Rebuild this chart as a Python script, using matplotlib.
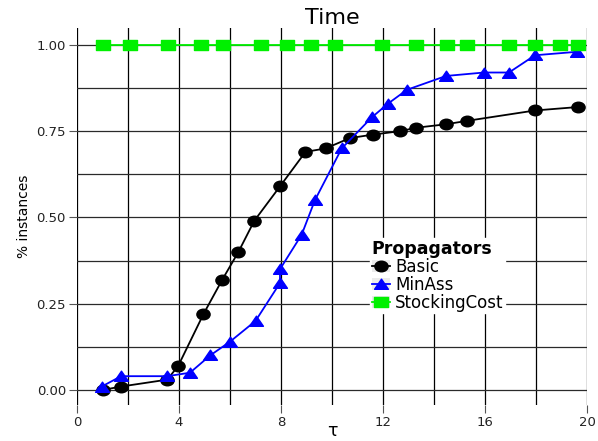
import matplotlib
matplotlib.use("Agg")
import matplotlib.pyplot as plt
import numpy as np
from matplotlib.path import Path
from matplotlib.patches import Rectangle
from matplotlib.legend_handler import HandlerTuple

plt.rcParams['font.family'] = ['DejaVu Sans']

# values
basic_x = [1.0, 1.73, 3.54, 3.97, 4.96, 5.7, 6.33, 6.95, 7.96, 8.96, 9.75, 10.7, 11.6, 12.67, 13.3, 14.47, 15.3, 17.96, 19.65]
basic_y = [0.00, 0.01, 0.03, 0.07, 0.22, 0.32, 0.40, 0.49, 0.59, 0.69, 0.70, 0.73, 0.74, 0.75, 0.76, 0.77, 0.78, 0.81, 0.82]

minass_x = [0.97, 1.73, 3.54, 4.43, 5.22, 6.0, 7.0, 7.96, 7.96, 8.81, 9.33, 10.38, 11.56, 12.2, 12.94, 14.47, 15.96, 16.94, 17.96, 19.6]
minass_y = [0.01, 0.04, 0.04, 0.05, 0.10, 0.14, 0.20, 0.31, 0.35, 0.45, 0.55, 0.70, 0.79, 0.83, 0.87, 0.91, 0.92, 0.92, 0.97, 0.98]

stock_x = [1.0, 2.09, 3.58, 4.88, 5.74, 7.23, 8.25, 9.16, 10.1, 11.97, 13.3, 14.5, 15.28, 16.95, 17.96, 18.94, 19.66]
stock_y = [1.0] * len(stock_x)

x_ticks = [0, 4, 8, 12, 16, 20]
y_ticks = [0.0, 0.25, 0.5, 0.75, 1.0]
y_labels = ['0.00', '0.25', '0.50', '0.75', '1.00']

# the reference is a bit stretched sideways, so the markers are wider than tall
circ = Path.unit_circle()
wide_circle = Path(circ.vertices * [1.25, 1.0], circ.codes)
wide_tri = Path([(-0.65, -0.45), (0.65, -0.45), (0.0, 0.5), (-0.65, -0.45)],
                [Path.MOVETO, Path.LINETO, Path.LINETO, Path.CLOSEPOLY])
wide_sq = Path([(-0.65, -0.5), (0.65, -0.5), (0.65, 0.5), (-0.65, 0.5), (-0.65, -0.5)],
               [Path.MOVETO, Path.LINETO, Path.LINETO, Path.LINETO, Path.CLOSEPOLY])

green = '#00f000'

fig = plt.figure(figsize=(5.98, 4.41), dpi=100)
ax = fig.add_axes([77 / 598, 1 - 405 / 441, 510 / 598, 377 / 441])

# grid: major + minor lines
for gx in np.arange(0, 20.1, 2):
    ax.axvline(gx, color='black', lw=0.9, zorder=0)
for gy in np.arange(0, 1.01, 0.125):
    ax.axhline(gy, color='#2a2a2a', lw=0.9, zorder=0)

l1, = ax.plot(basic_x, basic_y, color='black', lw=1.3, marker=wide_circle, ms=9.5, zorder=3)
l2, = ax.plot(minass_x, minass_y, color='blue', lw=1.3, marker=wide_tri, ms=10, zorder=3)
l3, = ax.plot(stock_x, stock_y, color=green, lw=1.3, marker=wide_sq, ms=9.5, zorder=3)

ax.set_xlim(0, 20)
ax.set_ylim(-0.0435, 1.049)
ax.set_xticks(x_ticks)
ax.set_xticklabels([str(t) for t in x_ticks])
ax.set_yticks(y_ticks)
ax.set_yticklabels(y_labels)
ax.tick_params(axis='both', length=6, width=0.8, color='#555555', labelsize=9.5, labelcolor='#222222', pad=2)
for s in ax.spines.values():
    s.set_visible(False)

ax.set_xlabel('\u03c4', fontsize=12.5, labelpad=-5)
ax.set_ylabel('% instances', fontsize=10, labelpad=4)
ax.set_title('Time', fontsize=16, pad=3)

# legend keys: grey key box with the marker on top
key_bg = lambda: Rectangle((0, 0), 1, 1, facecolor='#ebebeb', edgecolor='none')
handles = [(key_bg(), l1), (key_bg(), l2), (key_bg(), l3)]
leg = ax.legend(handles, ['Basic', 'MinAss', 'StockingCost'],
                handler_map={tuple: HandlerTuple(ndivide=1, pad=0)},
                loc='upper left', bbox_to_anchor=(370 / 598, 1 - 238 / 441), bbox_transform=fig.transFigure,
                title='Propagators', fontsize=12, title_fontproperties={'weight': 'bold', 'size': 12.5},
                frameon=True, fancybox=False, edgecolor='white', framealpha=1,
                handlelength=1.1, handleheight=0.7, handletextpad=0.3, borderpad=0.1,
                labelspacing=0.0, borderaxespad=0)
leg._legend_box.align = 'left'

fig.savefig('out.png', dpi=100)
